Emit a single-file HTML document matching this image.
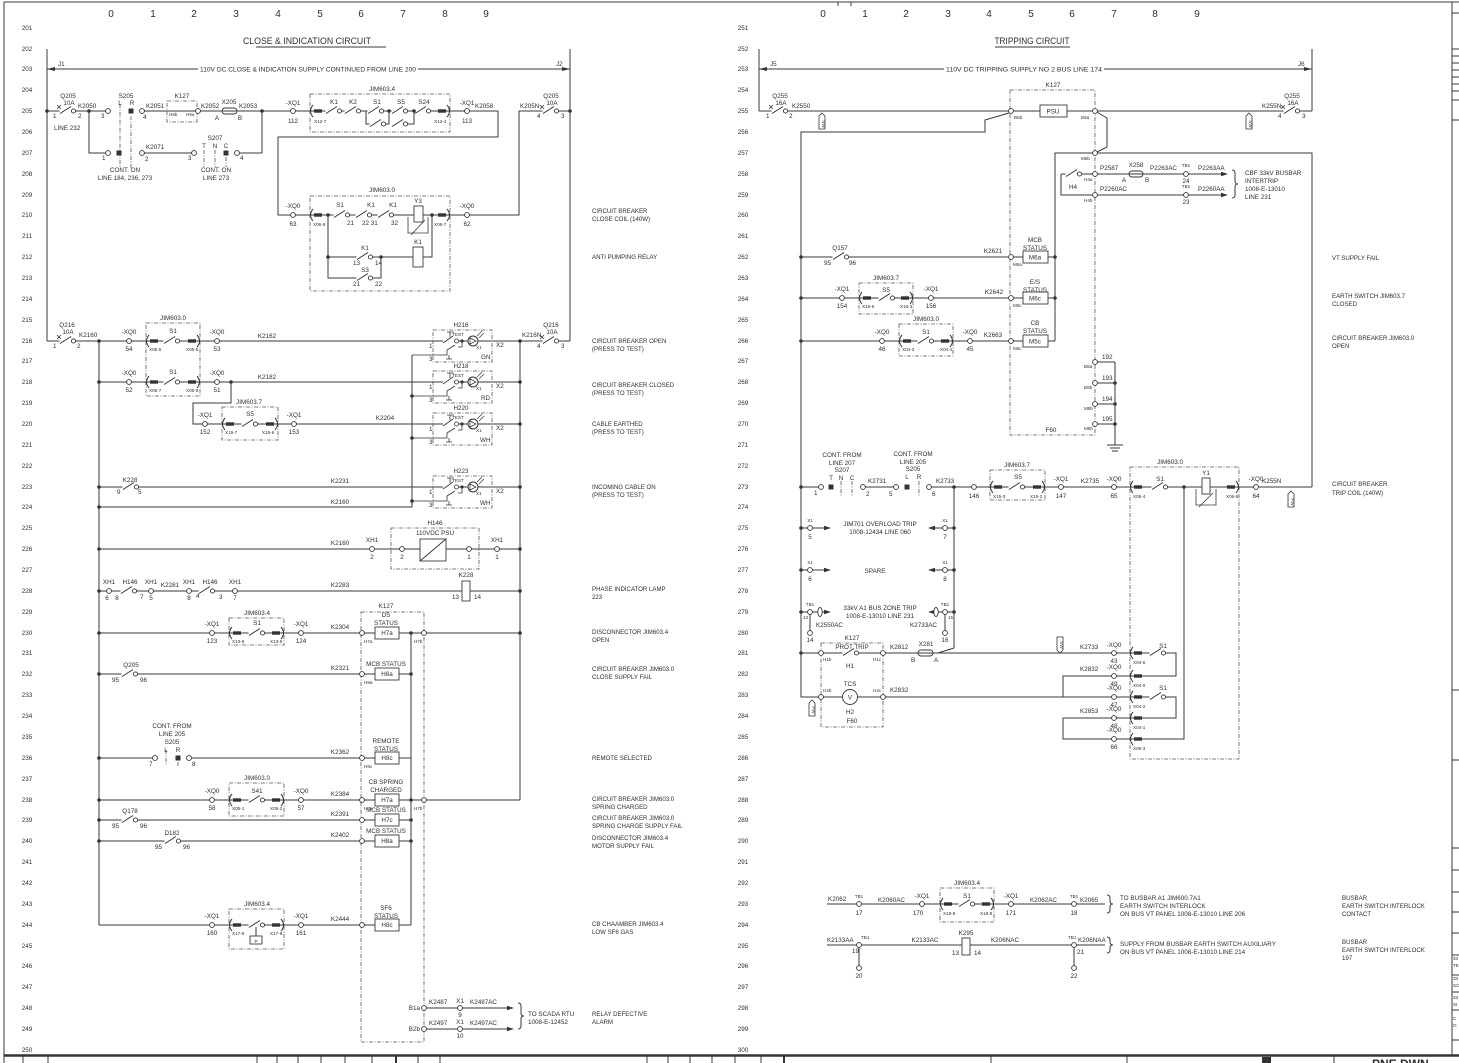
<!DOCTYPE html>
<html><head><meta charset="utf-8"><style>
html,body{margin:0;padding:0;background:#fff}
svg{display:block}
text{font-family:"Liberation Sans",Arial,sans-serif;font-size:6.3px;fill:#2e2e2e}
.m{text-anchor:middle}.e{text-anchor:end}
.c{font-size:10px}
.s{font-size:4.6px}
.ds{font-size:6.1px}
.w{fill:none;stroke:#3a3a3a;stroke-width:1}
.b{fill:none;stroke:#555;stroke-width:.8;stroke-dasharray:4 1.5 1 1.5}
.bx{fill:#fff;stroke:#3a3a3a;stroke-width:.9}
</style></head><body>
<svg width="1459" height="1063" viewBox="0 0 1459 1063" xmlns="http://www.w3.org/2000/svg">
<defs>
<g id="o"><circle r="2.4" fill="#fff" stroke="#333" stroke-width=".9"/></g>
<g id="d"><circle r="1.8" fill="#333"/></g>
<g id="pl"><path d="M3,-6Q-2,0 3,6" fill="none" stroke="#333"/><rect x="4" y="-1.7" width="8" height="3.4" fill="#333"/></g>
<g id="pr"><path d="M-3,-6Q2,0 -3,6" fill="none" stroke="#333"/><rect x="-12" y="-1.7" width="8" height="3.4" fill="#333"/></g>
<g id="k"><rect x="-.5" y="-1.6" width="12" height="3.2" fill="#fff"/><path d="M0,2.5L11,-4.5" stroke="#333" fill="none"/><circle cx="13.5" r="2.1" fill="#fff" stroke="#333" stroke-width=".9"/></g>
<g id="q"><use href="#k"/><path d="M-3,-6L1,-2M1,-6L-3,-2" stroke="#333" stroke-width=".8"/></g>
<g id="lamp">
<rect x="433" y="-11" width="59" height="32" class="b"/>
<rect x="443" y="-1.6" width="12" height="3.2" fill="#fff"/>
<path d="M443,2L453,-5M447,-9h7M450,-9v5" stroke="#333" fill="none" stroke-width=".8"/>
<circle cx="456.5" r="2" fill="#fff" stroke="#333" stroke-width=".8"/>
<circle cx="462" r="1.6" fill="#333"/>
<circle cx="473" r="5" fill="#fff" stroke="#333"/>
<path d="M470,-3L476,0L470,3Z" fill="none" stroke="#333" stroke-width=".7"/>
<path d="M477,-5l5,-5M479,-3l5,-5" stroke="#333" stroke-width=".7"/>
<path d="M412,14H447V9L455,4M462,0V6L458,6M446,18h6M449,14v4" stroke="#333" fill="none" stroke-width=".8"/>
</g>
<g id="sw"><path d="M0,-8L3,-5V8H-3V-5Z" fill="#fff" stroke="#333" stroke-width=".8"/></g>
</defs>

<!-- border -->
<path class="w" d="M4,2H1459M4,2V1063M1452,2V1055"/>
<path d="M4,1055.5H1459" stroke="#333" stroke-width="2.4"/>
<path class="w" d="M23,1056V1063M48,1056V1063M257,1056V1063M277,1056V1063M298,1056V1063M321,1056V1063M345,1056V1063M372,1056V1063M418,1056V1063M440,1056V1063M647,1056V1063M668,1056V1063M690,1056V1063M712,1056V1063M735,1056V1063M761,1056V1063M991,1056V1063M1127,1056V1063M1334,1056V1063"/>
<path d="M396,1056V1063M784,1056V1063" stroke="#333" stroke-width="2"/>
<rect x="1262" y="1057" width="9" height="6" fill="#333"/>
<text x="1372" y="1068" style="font-size:12px;font-weight:bold">PNE DWN</text>
<path class="w" d="M838,2V6M851,2V6"/>
<path class="w" d="M1452,13H1459M1452,49H1459M1452,56H1459M1452,63H1459M1452,70H1459M1452,77H1459M1452,84H1459M1452,91H1459M1452,100H1459M1452,120H1459M1452,690H1459M1452,760H1459M1452,848H1459M1452,870H1459M1452,892H1459M1452,912H1459M1452,933H1459M1452,955H1459M1452,975H1459M1452,992H1459M1452,1010H1459M1452,1040H1459"/>
<text x="1453" y="960" class="s">33</text><text x="1453" y="967" class="s">TE</text>
<text x="1453" y="980" class="s">33</text><text x="1453" y="987" class="s">SC</text>
<text x="1453" y="999" class="s">33</text><text x="1453" y="1006" class="s">SI</text>
<text x="1453" y="1020" class="s">C</text><text x="1453" y="1027" class="s">O</text>

<!-- column numbers -->
<g class="c">
<text x="111" y="17" class="m c">0</text><text x="153" y="17" class="m c">1</text><text x="194" y="17" class="m c">2</text><text x="236" y="17" class="m c">3</text><text x="278" y="17" class="m c">4</text><text x="320" y="17" class="m c">5</text><text x="361" y="17" class="m c">6</text><text x="403" y="17" class="m c">7</text><text x="445" y="17" class="m c">8</text><text x="486" y="17" class="m c">9</text>
<text x="823" y="17" class="m c">0</text><text x="865" y="17" class="m c">1</text><text x="906" y="17" class="m c">2</text><text x="948" y="17" class="m c">3</text><text x="989" y="17" class="m c">4</text><text x="1031" y="17" class="m c">5</text><text x="1072" y="17" class="m c">6</text><text x="1114" y="17" class="m c">7</text><text x="1155" y="17" class="m c">8</text><text x="1197" y="17" class="m c">9</text>
</g>

<!-- line numbers -->
<g>
<text x="27" y="30" class="m">201</text><text x="27" y="51" class="m">202</text><text x="27" y="71" class="m">203</text><text x="27" y="92" class="m">204</text><text x="27" y="113" class="m">205</text><text x="27" y="134" class="m">206</text><text x="27" y="155" class="m">207</text><text x="27" y="176" class="m">208</text><text x="27" y="197" class="m">209</text><text x="27" y="217" class="m">210</text><text x="27" y="238" class="m">211</text><text x="27" y="259" class="m">212</text><text x="27" y="280" class="m">213</text><text x="27" y="301" class="m">214</text><text x="27" y="322" class="m">215</text><text x="27" y="343" class="m">216</text><text x="27" y="363" class="m">217</text><text x="27" y="384" class="m">218</text><text x="27" y="405" class="m">219</text><text x="27" y="426" class="m">220</text><text x="27" y="447" class="m">221</text><text x="27" y="468" class="m">222</text><text x="27" y="489" class="m">223</text><text x="27" y="509" class="m">224</text><text x="27" y="530" class="m">225</text><text x="27" y="551" class="m">226</text><text x="27" y="572" class="m">227</text><text x="27" y="593" class="m">228</text><text x="27" y="614" class="m">229</text><text x="27" y="635" class="m">230</text><text x="27" y="655" class="m">231</text><text x="27" y="676" class="m">232</text><text x="27" y="697" class="m">233</text><text x="27" y="718" class="m">234</text><text x="27" y="739" class="m">235</text><text x="27" y="760" class="m">236</text><text x="27" y="781" class="m">237</text><text x="27" y="802" class="m">238</text><text x="27" y="822" class="m">239</text><text x="27" y="843" class="m">240</text><text x="27" y="864" class="m">241</text><text x="27" y="885" class="m">242</text><text x="27" y="906" class="m">243</text><text x="27" y="927" class="m">244</text><text x="27" y="948" class="m">245</text><text x="27" y="968" class="m">246</text><text x="27" y="989" class="m">247</text><text x="27" y="1010" class="m">248</text><text x="27" y="1031" class="m">249</text><text x="27" y="1052" class="m">250</text>
<text x="743" y="30" class="m">251</text><text x="743" y="51" class="m">252</text><text x="743" y="71" class="m">253</text><text x="743" y="92" class="m">254</text><text x="743" y="113" class="m">255</text><text x="743" y="134" class="m">256</text><text x="743" y="155" class="m">257</text><text x="743" y="176" class="m">258</text><text x="743" y="197" class="m">259</text><text x="743" y="217" class="m">260</text><text x="743" y="238" class="m">261</text><text x="743" y="259" class="m">262</text><text x="743" y="280" class="m">263</text><text x="743" y="301" class="m">264</text><text x="743" y="322" class="m">265</text><text x="743" y="343" class="m">266</text><text x="743" y="363" class="m">267</text><text x="743" y="384" class="m">268</text><text x="743" y="405" class="m">269</text><text x="743" y="426" class="m">270</text><text x="743" y="447" class="m">271</text><text x="743" y="468" class="m">272</text><text x="743" y="489" class="m">273</text><text x="743" y="509" class="m">274</text><text x="743" y="530" class="m">275</text><text x="743" y="551" class="m">276</text><text x="743" y="572" class="m">277</text><text x="743" y="593" class="m">278</text><text x="743" y="614" class="m">279</text><text x="743" y="635" class="m">280</text><text x="743" y="655" class="m">281</text><text x="743" y="676" class="m">282</text><text x="743" y="697" class="m">283</text><text x="743" y="718" class="m">284</text><text x="743" y="739" class="m">285</text><text x="743" y="760" class="m">286</text><text x="743" y="781" class="m">287</text><text x="743" y="802" class="m">288</text><text x="743" y="822" class="m">289</text><text x="743" y="843" class="m">290</text><text x="743" y="864" class="m">291</text><text x="743" y="885" class="m">292</text><text x="743" y="906" class="m">293</text><text x="743" y="927" class="m">294</text><text x="743" y="948" class="m">295</text><text x="743" y="968" class="m">296</text><text x="743" y="989" class="m">297</text><text x="743" y="1010" class="m">298</text><text x="743" y="1031" class="m">299</text><text x="743" y="1052" class="m">300</text>
</g>

<!-- ================= LEFT SHEET ================= -->
<text x="307" y="44" class="m" style="font-size:9.5px" textLength="128" lengthAdjust="spacingAndGlyphs">CLOSE &amp; INDICATION CIRCUIT</text>
<path class="w" d="M256,47H386"/>
<path class="w" d="M47,49V341M570,49V341M47,69H198M418,69H570"/>
<path d="M47,69l8,-2v4zM570,69l-8,-2v4z" fill="#333"/>
<text x="308" y="71.5" class="m" textLength="216" lengthAdjust="spacingAndGlyphs">110V DC CLOSE &amp; INDICATION SUPPLY CONTINUED FROM LINE 200</text>
<text x="58" y="66">J1</text><text x="556" y="66">J2</text>

<!-- wires left -->
<path class="w" d="M47,111H108M142,111H498V137H278V215H519V111H570M89,111V153H108M142,153H194M237,153H262V111"/>
<path class="w" d="M328,215V278H381V257M328,257H432V215"/>
<path class="w" d="M366,111V124H370M386,124H389V111M408,124H414V111"/>
<path class="w" d="M47,341H570M99,341V925M520,341V800M99,382H520M231,382V403H193V424H520M99,487H520M99,507H412V355M99,549H520M99,591H520M99,633H520M99,674H411M99,758H155M189,758H411M99,800H520M99,820H411M99,841H411M99,925H411M411,633V925"/>
<path class="w" d="M424,1008H512M424,1029H512"/>
<path d="M514,1008l-7,-2.2v4.4zM514,1029l-7,-2.2v4.4z" fill="#333"/>

<!-- dashed boxes left -->
<rect x="167" y="101" width="30" height="21" class="b"/>
<rect x="310" y="94" width="140" height="38" class="b"/>
<rect x="310" y="196" width="140" height="95" class="b"/>
<rect x="146" y="323" width="54" height="73" class="b"/>
<rect x="222" y="407" width="56" height="33" class="b"/>
<rect x="391" y="528" width="88" height="41" class="b"/>
<rect x="229" y="618" width="55" height="27" class="b"/>
<rect x="361" y="612" width="63" height="430" class="b"/>
<rect x="229" y="783" width="55" height="33" class="b"/>
<rect x="229" y="909" width="55" height="40" class="b"/>
<path class="b" d="M120,104V168M131,116V168M204,150V167M215,150V167M226,157V167M166,750V766M178,762V766"/>

<!-- symbols row 205/207 -->
<use href="#d" x="47" y="111"/><use href="#q" x="60" y="111"/><use href="#d" x="89" y="111"/>
<use href="#o" x="108" y="111"/><rect x="128.5" y="108.5" width="5" height="5" fill="#333"/>
<use href="#o" x="142" y="111"/><use href="#o" x="198" y="111"/>
<rect x="222" y="108" width="15" height="6" rx="3" class="bx"/><path class="w" d="M222,111H237"/>
<use href="#d" x="262" y="111"/><use href="#o" x="293" y="111"/>
<use href="#pl" x="310" y="111"/>
<use href="#k" x="326" y="111"/><use href="#k" x="345" y="111"/><use href="#k" x="368" y="111"/><use href="#k" x="392" y="111"/><use href="#k" x="415" y="111"/>
<use href="#k" x="370" y="124"/><use href="#k" x="392" y="124"/>
<use href="#d" x="389" y="111"/><use href="#d" x="414" y="111"/>
<use href="#pr" x="450" y="111"/><use href="#o" x="467" y="111"/>
<use href="#q" x="543" y="111"/><use href="#d" x="570" y="111"/>
<use href="#o" x="108" y="153"/><rect x="116.5" y="150.5" width="5" height="5" fill="#333"/><use href="#o" x="142" y="153"/><use href="#o" x="194" y="153"/><rect x="223.5" y="150.5" width="5" height="5" fill="#333"/><use href="#o" x="237" y="153"/>
<!-- row 210-213 -->
<use href="#o" x="293" y="215"/><use href="#pl" x="310" y="215"/><use href="#d" x="328" y="215"/>
<use href="#k" x="334" y="215"/><use href="#k" x="356" y="215"/><use href="#k" x="378" y="215"/>
<rect x="414" y="206" width="9" height="16" class="bx"/>
<path class="w" d="M408,217V233H428V217M411,235L425,220" style="stroke-width:.8"/>
<use href="#d" x="432" y="215"/><use href="#pr" x="450" y="215"/><use href="#o" x="467" y="215"/>
<use href="#d" x="328" y="257"/><use href="#k" x="357" y="257"/><use href="#d" x="381" y="257"/>
<rect x="413" y="247" width="10" height="20" class="bx"/>
<use href="#k" x="357" y="278"/>

<!-- rows 216-224 -->
<use href="#q" x="60" y="341"/><use href="#d" x="99" y="341"/><use href="#o" x="129" y="341"/><use href="#pl" x="146" y="341"/><use href="#k" x="164" y="341"/><use href="#pr" x="200" y="341"/><use href="#o" x="217" y="341"/>
<use href="#lamp" y="341"/><use href="#d" x="520" y="341"/><use href="#q" x="543" y="341"/>
<use href="#d" x="99" y="382"/><use href="#o" x="129" y="382"/><use href="#pl" x="146" y="382"/><use href="#k" x="164" y="382"/><use href="#pr" x="200" y="382"/><use href="#o" x="217" y="382"/><use href="#d" x="231" y="382"/>
<use href="#lamp" y="382"/><use href="#d" x="520" y="382"/>
<use href="#o" x="205" y="424"/><use href="#pl" x="222" y="424"/><use href="#k" x="242" y="424"/><use href="#pr" x="278" y="424"/><use href="#o" x="294" y="424"/>
<use href="#lamp" y="424"/><use href="#d" x="520" y="424"/>
<use href="#d" x="99" y="487"/><use href="#k" x="123" y="487"/><use href="#lamp" y="487"/><use href="#d" x="520" y="487"/>
<use href="#d" x="99" y="507"/><use href="#d" x="412" y="396"/><use href="#d" x="412" y="438"/><use href="#d" x="412" y="501"/>
<!-- 226/228 -->
<use href="#d" x="99" y="549"/><use href="#o" x="372" y="549"/><use href="#o" x="402" y="549"/>
<rect x="420" y="539" width="26" height="22" class="bx"/><path class="w" d="M420,561L446,539"/>
<use href="#o" x="469" y="549"/><use href="#o" x="497" y="549"/><use href="#d" x="520" y="549"/>
<use href="#d" x="99" y="591"/><use href="#o" x="109" y="591"/><use href="#k" x="121" y="591"/><use href="#o" x="151" y="591"/><use href="#o" x="189" y="591"/><use href="#k" x="199" y="591"/><use href="#o" x="235" y="591"/>
<rect x="462" y="581" width="8" height="20" class="bx"/><use href="#d" x="520" y="591"/>
<!-- 230-244 -->
<use href="#d" x="99" y="633"/><use href="#o" x="212" y="633"/><use href="#pl" x="229" y="633"/><use href="#k" x="249" y="633"/><use href="#pr" x="284" y="633"/><use href="#o" x="301" y="633"/>
<use href="#o" x="362" y="633"/><rect x="375" y="627" width="24" height="12" class="bx"/><use href="#d" x="411" y="633"/><use href="#o" x="424" y="633"/><use href="#d" x="520" y="633"/>
<use href="#d" x="99" y="674"/><use href="#k" x="122" y="674"/><use href="#o" x="362" y="674"/><rect x="375" y="668" width="24" height="12" class="bx"/><use href="#d" x="411" y="674"/>
<use href="#d" x="99" y="758"/><use href="#o" x="155" y="758"/><rect x="175.5" y="755.5" width="5" height="5" fill="#333"/><use href="#o" x="189" y="758"/><use href="#o" x="362" y="758"/><rect x="375" y="752" width="24" height="12" class="bx"/>
<use href="#d" x="99" y="800"/><use href="#o" x="212" y="800"/><use href="#pl" x="229" y="800"/><use href="#k" x="249" y="800"/><use href="#pr" x="284" y="800"/><use href="#o" x="301" y="800"/>
<use href="#o" x="362" y="800"/><rect x="375" y="794" width="24" height="12" class="bx"/><use href="#d" x="411" y="800"/><use href="#o" x="424" y="800"/>
<use href="#d" x="99" y="820"/><use href="#k" x="122" y="820"/><use href="#o" x="362" y="820"/><rect x="375" y="814" width="24" height="12" class="bx"/><use href="#d" x="411" y="820"/>
<use href="#d" x="99" y="841"/><use href="#k" x="165" y="841"/><use href="#o" x="362" y="841"/><rect x="375" y="835" width="24" height="12" class="bx"/><use href="#d" x="411" y="841"/>
<use href="#o" x="212" y="925"/><use href="#pl" x="229" y="925"/><use href="#k" x="249" y="925"/><use href="#pr" x="284" y="925"/><use href="#o" x="301" y="925"/>
<path class="w" d="M256,927V936"/><rect x="250" y="936" width="12" height="8" class="bx"/>
<use href="#o" x="362" y="925"/><rect x="375" y="919" width="24" height="12" class="bx"/>
<use href="#o" x="424" y="1008"/><use href="#o" x="460" y="1008"/><use href="#o" x="424" y="1029"/><use href="#o" x="460" y="1029"/>
<path class="w" d="M518,1003q3,0 3,3v7q0,3 3,3q-3,0 -3,3v7q0,3 -3,3"/>

<!-- left labels -->
<g>
<text x="53" y="118">1</text><text x="78" y="118">2</text><text x="68" y="98" class="m">Q205</text><text x="69" y="105" class="m">10A</text><text x="78" y="108">K2050</text><text x="54" y="130">LINE 232</text>
<text x="101" y="118">3</text><text x="126" y="98" class="m">S205</text><text x="120" y="105" class="m">L</text><text x="132" y="105" class="m">R</text>
<text x="143" y="119">4</text><text x="146" y="108">K2051</text><text x="182" y="98" class="m">K127</text><text x="169" y="116" class="s">H6b</text><text x="186" y="116" class="s">H6a</text>
<text x="201" y="108">K2052</text><text x="217" y="120" class="m">A</text><text x="229" y="104" class="m">X205</text><text x="240" y="120" class="m">B</text><text x="239" y="108">K2053</text>
<text x="293" y="105" class="m">-XQ1</text><text x="293" y="123" class="m">112</text><text x="382" y="91" class="m">JIM603.4</text>
<text x="314" y="123" class="s">X12-7</text><text x="334" y="104" class="m">K1</text><text x="353" y="104" class="m">K2</text><text x="377" y="104" class="m">S1</text><text x="401" y="104" class="m">S5</text><text x="424" y="104" class="m">S24</text><text x="434" y="123" class="s">X12-4</text>
<text x="467" y="105" class="m">-XQ1</text><text x="467" y="123" class="m">113</text><text x="475" y="108">K2058</text>
<text x="520" y="108">K205N</text><text x="537" y="118">4</text><text x="561" y="118">3</text><text x="551" y="98" class="m">Q205</text><text x="552" y="105" class="m">10A</text>
<text x="102" y="160">1</text><text x="146" y="149">K2071</text><text x="145" y="161">2</text><text x="188" y="160">3</text><text x="215" y="140" class="m">S207</text><text x="204" y="148" class="m">T</text><text x="215" y="148" class="m">N</text><text x="226" y="148" class="m">C</text><text x="240" y="160">4</text>
<text x="125" y="172" class="m">CONT. ON</text><text x="125" y="180" class="m">LINE 184, 236, 273</text><text x="216" y="172" class="m">CONT. ON</text><text x="216" y="180" class="m">LINE 273</text>
<text x="382" y="192" class="m">JIM603.0</text><text x="293" y="208" class="m">-XQ0</text><text x="293" y="226" class="m">63</text><text x="313" y="226" class="s">X06-6</text>
<text x="340" y="207" class="m">S1</text><text x="347" y="225">21</text><text x="371" y="207" class="m">K1</text><text x="362" y="225">22 31</text><text x="393" y="207" class="m">K1</text><text x="391" y="225">32</text>
<text x="418" y="203" class="m">Y3</text><text x="434" y="226" class="s">X06-7</text><text x="467" y="208" class="m">-XQ0</text><text x="467" y="226" class="m">62</text>
<text x="365" y="250" class="m">K1</text><text x="353" y="265">13</text><text x="375" y="265">14</text><text x="418" y="244" class="m">K1</text>
<text x="365" y="272" class="m">S3</text><text x="353" y="286">21</text><text x="375" y="286">22</text>

<text x="67" y="327" class="m">Q216</text><text x="68" y="334" class="m">10A</text><text x="53" y="348">1</text><text x="77" y="348">2</text><text x="79" y="337">K2160</text>
<text x="173" y="320" class="m">JIM603.0</text>
<text x="129" y="334" class="m">-XQ0</text><text x="129" y="351" class="m">54</text><text x="149" y="351" class="s">X05-5</text><text x="173" y="333" class="m">S1</text><text x="186" y="351" class="s">X05-6</text><text x="217" y="334" class="m">-XQ0</text><text x="217" y="351" class="m">53</text>
<text x="267" y="338" class="m">K2162</text>
<text x="129" y="375" class="m">-XQ0</text><text x="129" y="392" class="m">52</text><text x="149" y="392" class="s">X05-7</text><text x="173" y="374" class="m">S1</text><text x="186" y="392" class="s">X05-8</text><text x="217" y="375" class="m">-XQ0</text><text x="217" y="392" class="m">51</text>
<text x="267" y="379" class="m">K2182</text>
<text x="249" y="404" class="m">JIM603.7</text><text x="205" y="417" class="m">-XQ1</text><text x="205" y="434" class="m">152</text><text x="225" y="434" class="s">X16-7</text><text x="250" y="416" class="m">S5</text><text x="262" y="434" class="s">X16-6</text><text x="294" y="417" class="m">-XQ1</text><text x="294" y="434" class="m">153</text>
<text x="385" y="420" class="m">K2204</text>
<text x="461" y="327" class="m">H216</text><text x="461" y="368" class="m">H218</text><text x="461" y="410" class="m">H220</text><text x="461" y="473" class="m">H223</text>
<text x="458" y="336" class="m s">TEST</text><text x="458" y="377" class="m s">TEST</text><text x="458" y="419" class="m s">TEST</text><text x="458" y="482" class="m s">TEST</text>
<text x="429" y="348">1</text><text x="429" y="361">3</text><text x="476" y="349" class="s">X1</text><text x="496" y="347">X2</text><text x="481" y="359">GN</text>
<text x="429" y="389">1</text><text x="429" y="402">3</text><text x="476" y="390" class="s">X1</text><text x="496" y="388">X2</text><text x="481" y="400">RD</text>
<text x="429" y="431">1</text><text x="429" y="444">3</text><text x="476" y="432" class="s">X1</text><text x="496" y="430">X2</text><text x="480" y="442">WH</text>
<text x="429" y="494">1</text><text x="429" y="507">3</text><text x="476" y="495" class="s">X1</text><text x="496" y="493">X2</text><text x="480" y="505">WH</text>
<text x="522" y="337">K216N</text><text x="537" y="348">4</text><text x="561" y="348">3</text><text x="551" y="327" class="m">Q216</text><text x="552" y="334" class="m">10A</text>
<text x="130" y="482" class="m">K228</text><text x="117" y="494">9</text><text x="138" y="494">5</text><text x="340" y="483" class="m">K2231</text>
<text x="340" y="504" class="m">K2160</text>
<text x="340" y="545" class="m">K2160</text><text x="372" y="542" class="m">XH1</text><text x="372" y="559" class="m">2</text><text x="435" y="525" class="m">H146</text><text x="435" y="535" class="m">110VDC PSU</text><text x="402" y="559" class="m">2</text><text x="469" y="559" class="m">1</text><text x="497" y="542" class="m">XH1</text><text x="497" y="559" class="m">1</text>
<text x="109" y="584" class="m">XH1</text><text x="107" y="600" class="m">6</text><text x="117" y="600" class="m">8</text><text x="130" y="584" class="m">H146</text><text x="140" y="599">7</text>
<text x="151" y="584" class="m">XH1</text><text x="151" y="600" class="m">5</text><text x="170" y="587" class="m">K2281</text>
<text x="189" y="584" class="m">XH1</text><text x="189" y="600" class="m">8</text><text x="196" y="598">4</text><text x="210" y="584" class="m">H146</text><text x="219" y="599">3</text>
<text x="235" y="584" class="m">XH1</text><text x="235" y="600" class="m">7</text><text x="340" y="587" class="m">K2283</text><text x="466" y="577" class="m">K228</text><text x="452" y="599">13</text><text x="474" y="599">14</text>
<text x="257" y="615" class="m">JIM603.4</text><text x="212" y="626" class="m">-XQ1</text><text x="212" y="643" class="m">123</text><text x="232" y="643" class="s">X13-6</text><text x="257" y="625" class="m">S1</text><text x="270" y="643" class="s">X13-5</text><text x="301" y="626" class="m">-XQ1</text><text x="301" y="643" class="m">124</text>
<text x="340" y="629" class="m">K2304</text><text x="386" y="608" class="m">K127</text><text x="386" y="617" class="m">DS</text><text x="386" y="625" class="m">STATUS</text><text x="387" y="635" class="m">H7a</text><text x="364" y="643" class="s">H7a</text><text x="414" y="643" class="s">H7b</text>
<text x="131" y="667" class="m">Q205</text><text x="112" y="682">95</text><text x="140" y="682">96</text><text x="340" y="670" class="m">K2321</text><text x="386" y="666" class="m">MCB STATUS</text><text x="387" y="676" class="m">H8a</text><text x="364" y="684" class="s">H8a</text>
<text x="172" y="728" class="m">CONT. FROM</text><text x="172" y="736" class="m">LINE 205</text><text x="172" y="744" class="m">S205</text><text x="166" y="752" class="m">L</text><text x="178" y="752" class="m">R</text>
<text x="149" y="766">7</text><text x="192" y="766">8</text><text x="340" y="754" class="m">K2362</text><text x="386" y="743" class="m">REMOTE</text><text x="386" y="751" class="m">STATUS</text><text x="387" y="760" class="m">H8c</text><text x="364" y="768" class="s">H8c</text>
<text x="257" y="780" class="m">JIM603.0</text><text x="212" y="793" class="m">-XQ0</text><text x="212" y="810" class="m">58</text><text x="232" y="810" class="s">X05-1</text><text x="257" y="793" class="m">S41</text><text x="270" y="810" class="s">X05-2</text><text x="301" y="793" class="m">-XQ0</text><text x="301" y="810" class="m">57</text>
<text x="340" y="796" class="m">K2384</text><text x="386" y="784" class="m">CB SPRING</text><text x="386" y="792" class="m">CHARGED</text><text x="387" y="802" class="m">H7a</text><text x="364" y="810" class="s">H7a</text><text x="414" y="810" class="s">H7b</text>
<text x="130" y="813" class="m">Q178</text><text x="112" y="828">95</text><text x="140" y="828">96</text><text x="340" y="816" class="m">K2391</text><text x="386" y="812" class="m">MCB STATUS</text><text x="387" y="822" class="m">H7c</text>
<text x="172" y="835" class="m">D182</text><text x="155" y="849">95</text><text x="183" y="849">96</text><text x="340" y="837" class="m">K2402</text><text x="386" y="833" class="m">MCB STATUS</text><text x="387" y="843" class="m">H8a</text>
<text x="257" y="906" class="m">JIM603.4</text><text x="212" y="918" class="m">-XQ1</text><text x="212" y="935" class="m">160</text><text x="232" y="935" class="s">X17-9</text><text x="270" y="935" class="s">X17-8</text><text x="256" y="943" class="m s">P</text><text x="301" y="918" class="m">-XQ1</text><text x="301" y="935" class="m">161</text>
<text x="340" y="921" class="m">K2444</text><text x="386" y="910" class="m">SF6</text><text x="386" y="918" class="m">STATUS</text><text x="387" y="927" class="m">H8c</text>
<text x="420" y="1010" class="e">B1a</text><text x="429" y="1004">K2487</text><text x="460" y="1003" class="m">X1</text><text x="460" y="1017" class="m">9</text><text x="470" y="1004">K2487AC</text>
<text x="420" y="1031" class="e">B2b</text><text x="429" y="1025">K2497</text><text x="460" y="1024" class="m">X1</text><text x="460" y="1038" class="m">10</text><text x="470" y="1025">K2497AC</text>
<text x="528" y="1016">TO SCADA RTU</text><text x="528" y="1024">1008-E-12452</text>
</g>
<g class="ds">
<text x="592" y="213" class="ds">CIRCUIT BREAKER</text><text x="592" y="221" class="ds">CLOSE COIL (140W)</text>
<text x="592" y="259" class="ds">ANTI PUMPING RELAY</text>
<text x="592" y="343" class="ds">CIRCUIT BREAKER OPEN</text><text x="592" y="351" class="ds">(PRESS TO TEST)</text>
<text x="592" y="387" class="ds">CIRCUIT BREAKER CLOSED</text><text x="592" y="395" class="ds">(PRESS TO TEST)</text>
<text x="592" y="426" class="ds">CABLE EARTHED</text><text x="592" y="434" class="ds">(PRESS TO TEST)</text>
<text x="592" y="489" class="ds">INCOMING CABLE ON</text><text x="592" y="497" class="ds">(PRESS TO TEST)</text>
<text x="592" y="591" class="ds">PHASE INDICATOR LAMP</text><text x="592" y="599" class="ds">223</text>
<text x="592" y="634" class="ds">DISCONNECTOR JIM603.4</text><text x="592" y="642" class="ds">OPEN</text>
<text x="592" y="671" class="ds">CIRCUIT BREAKER JIM603.0</text><text x="592" y="679" class="ds">CLOSE SUPPLY FAIL</text>
<text x="592" y="760" class="ds">REMOTE SELECTED</text>
<text x="592" y="801" class="ds">CIRCUIT BREAKER JIM603.0</text><text x="592" y="809" class="ds">SPRING CHARGED</text>
<text x="592" y="820" class="ds">CIRCUIT BREAKER JIM603.0</text><text x="592" y="828" class="ds">SPRING CHARGE SUPPLY FAIL</text>
<text x="592" y="840" class="ds">DISCONNECTOR JIM603.4</text><text x="592" y="848" class="ds">MOTOR SUPPLY FAIL</text>
<text x="592" y="926" class="ds">CB CHAAMBER JIM603.4</text><text x="592" y="934" class="ds">LOW SF6 GAS</text>
<text x="592" y="1016" class="ds">RELAY DEFECTIVE</text><text x="592" y="1024" class="ds">ALARM</text>
</g>

<!-- ================= RIGHT SHEET ================= -->
<text x="1032" y="44" class="m" style="font-size:9.5px" textLength="75" lengthAdjust="spacingAndGlyphs">TRIPPING CIRCUIT</text>
<path class="w" d="M995,47H1070"/>
<path class="w" d="M759,49V111M1312,49V111M759,69H944M1104,69H1312"/>
<path d="M759,69l8,-2v4zM1312,69l-8,-2v4z" fill="#333"/>
<text x="1024" y="71.5" class="m" textLength="156" lengthAdjust="spacingAndGlyphs">110V DC TRIPPING SUPPLY NO 2 BUS LINE 174</text>
<text x="770" y="66">J5</text><text x="1298" y="66">J6</text>

<path class="w" d="M759,111H1312M1009,113L985,120V132H801V697H1176V718H1063V739H1184V487M1095,111L1107,118V147L1095,153M1055,341V153H1312V487"/>
<path class="w" d="M1061,174V195H1224M1061,174H1066M1082,174H1224M801,257H1055M801,298H1055M801,341H1055"/>
<path class="w" d="M1095,362H1115M1095,383H1115M1095,404H1115M1095,424H1115M1115,362V445M1107,445H1123M1110,448H1120M1112,451H1118"/>
<path class="w" d="M801,487H821M863,487H896M929,487H1312M954,487V648L938,653M801,528H829M930,528H954M801,570H829M930,570H954M801,612H829M930,612H954M810,612V633M945,612V633"/>
<path class="w" d="M801,653H1176V676H1063V697"/>
<path class="w" d="M827,904H1105M827,945H1105M859,945V968M1074,945V968"/>
<path d="M1228,174l-7,-2.2v4.4zM1228,195l-7,-2.2v4.4zM831,528l-7,-2.2v4.4zM928,528l7,-2.2v4.4zM831,570l-7,-2.2v4.4zM928,570l7,-2.2v4.4zM831,612l-7,-2.2v4.4zM928,612l7,-2.2v4.4z" fill="#333"/>

<rect x="1010" y="90" width="85" height="345" class="b"/>
<rect x="859" y="283" width="54" height="31" class="b"/>
<rect x="899" y="324" width="54" height="32" class="b"/>
<rect x="990" y="470" width="55" height="30" class="b"/>
<rect x="1130" y="467" width="109" height="292" class="b"/>
<rect x="821" y="643" width="62" height="84" class="b"/>
<rect x="940" y="888" width="54" height="34" class="b"/>
<path class="b" d="M841,481V496M852,481V496M919,481V496"/>

<use href="#q" x="772" y="111"/><use href="#sw" x="822" y="121"/><use href="#o" x="1011" y="111"/><rect x="1040" y="105" width="27" height="12" class="bx"/><use href="#o" x="1095" y="111"/><use href="#sw" x="1249" y="121"/><use href="#q" x="1284" y="111"/>
<use href="#o" x="1095" y="153"/>
<use href="#k" x="1066" y="174"/><use href="#o" x="1095" y="174"/><rect x="1129" y="171" width="14" height="6" rx="3" class="bx"/><path class="w" d="M1129,174H1143"/><use href="#o" x="1186" y="174"/>
<use href="#o" x="1095" y="195"/><use href="#o" x="1186" y="195"/>
<path class="w" d="M1232,170q3,0 3,3v8q0,3 3,3q-3,0 -3,3v8q0,3 -3,3"/>
<use href="#d" x="801" y="257"/><use href="#k" x="833" y="257"/><use href="#o" x="1011" y="257"/><rect x="1023" y="251" width="25" height="12" class="bx"/><use href="#d" x="1055" y="257"/>
<use href="#d" x="801" y="298"/><use href="#o" x="842" y="298"/><use href="#pl" x="859" y="298"/><use href="#k" x="879" y="298"/><use href="#pr" x="913" y="298"/><use href="#o" x="931" y="298"/><use href="#o" x="1011" y="298"/><rect x="1023" y="292" width="25" height="12" class="bx"/><use href="#d" x="1055" y="298"/>
<use href="#d" x="801" y="341"/><use href="#o" x="882" y="341"/><use href="#pl" x="899" y="341"/><use href="#k" x="918" y="341"/><use href="#pr" x="953" y="341"/><use href="#o" x="970" y="341"/><use href="#o" x="1011" y="341"/><rect x="1023" y="335" width="25" height="12" class="bx"/>
<use href="#o" x="1095" y="362"/><use href="#o" x="1095" y="383"/><use href="#o" x="1095" y="404"/><use href="#o" x="1095" y="424"/><use href="#d" x="1115" y="383"/><use href="#d" x="1115" y="404"/><use href="#d" x="1115" y="424"/>

<use href="#d" x="801" y="487"/><use href="#o" x="821" y="487"/><rect x="828.5" y="484.5" width="5" height="5" fill="#333"/><use href="#o" x="863" y="487"/><use href="#o" x="896" y="487"/><rect x="904.5" y="484.5" width="5" height="5" fill="#333"/><use href="#o" x="929" y="487"/><use href="#d" x="954" y="487"/>
<use href="#o" x="974" y="487"/><use href="#pl" x="990" y="487"/><use href="#k" x="1009" y="487"/><use href="#pr" x="1045" y="487"/><use href="#o" x="1061" y="487"/><use href="#o" x="1114" y="487"/>
<use href="#pl" x="1130" y="487"/><use href="#k" x="1152" y="487"/><use href="#d" x="1184" y="487"/><rect x="1202" y="478" width="8" height="16" class="bx"/><path class="w" d="M1196,489V505H1216V489M1199,507L1213,493" style="stroke-width:.8"/><use href="#pr" x="1239" y="487"/><use href="#o" x="1256" y="487"/><use href="#sw" x="1291" y="499"/>
<use href="#d" x="801" y="528"/><use href="#o" x="810" y="528"/><use href="#o" x="945" y="528"/><use href="#d" x="954" y="528"/>
<use href="#d" x="801" y="570"/><use href="#o" x="810" y="570"/><use href="#o" x="945" y="570"/><use href="#d" x="954" y="570"/>
<use href="#d" x="801" y="612"/><use href="#o" x="810" y="612"/><ellipse cx="820" cy="612" rx="2.2" ry="4.5" class="bx"/><ellipse cx="936" cy="612" rx="2.2" ry="4.5" class="bx"/><use href="#o" x="945" y="612"/><use href="#d" x="954" y="612"/><use href="#o" x="810" y="633"/><use href="#o" x="945" y="633"/>
<use href="#d" x="801" y="653"/><use href="#o" x="821" y="653"/><use href="#k" x="843" y="653"/><use href="#o" x="883" y="653"/><rect x="918" y="650" width="15" height="6" rx="3" class="bx"/><path class="w" d="M918,653H933"/>
<g transform="translate(1060,645) rotate(180)"><use href="#sw"/></g>
<use href="#o" x="1114" y="653"/><use href="#pl" x="1130" y="653"/><use href="#k" x="1150" y="653"/>
<use href="#o" x="1114" y="676"/><use href="#pl" x="1130" y="676"/>
<use href="#o" x="821" y="697"/><circle cx="850" cy="697" r="7.5" class="bx"/><use href="#o" x="883" y="697"/><use href="#o" x="1114" y="697"/><use href="#pl" x="1130" y="697"/><use href="#k" x="1150" y="697"/>
<use href="#o" x="1114" y="718"/><use href="#pl" x="1130" y="718"/>
<use href="#o" x="1114" y="739"/><use href="#pl" x="1130" y="739"/>
<use href="#sw" x="812" y="708"/>
<!-- rows 293/295 -->
<use href="#o" x="859" y="904"/><use href="#o" x="922" y="904"/><use href="#pl" x="940" y="904"/><use href="#k" x="959" y="904"/><use href="#pr" x="994" y="904"/><use href="#o" x="1011" y="904"/><use href="#o" x="1074" y="904"/>
<use href="#o" x="859" y="945"/><use href="#o" x="859" y="968"/><rect x="962" y="938" width="8" height="17" class="bx"/><use href="#o" x="1074" y="945"/><use href="#o" x="1074" y="968"/>
<path class="w" d="M1107,895q3,0 3,3v3q0,3 3,3q-3,0 -3,3v3q0,3 -3,3M1107,937q3,0 3,3v2q0,3 3,3q-3,0 -3,3v2q0,3 -3,3"/>

<g>
<text x="766" y="118">1</text><text x="789" y="118">2</text><text x="780" y="98" class="m">Q255</text><text x="781" y="105" class="m">16A</text><text x="792" y="108">K2550</text>
<text x="822" y="124" class="m s" transform="rotate(90 822 124)">SW</text><text x="1249" y="124" class="m s" transform="rotate(90 1249 124)">SW</text>
<text x="1014" y="119" class="s">B5b</text><text x="1053" y="87" class="m">K127</text><text x="1053" y="113.5" class="m">PSU</text><text x="1081" y="119" class="s">B6a</text>
<text x="1262" y="108">K255N</text><text x="1278" y="118">4</text><text x="1302" y="118">3</text><text x="1292" y="98" class="m">Q255</text><text x="1293" y="105" class="m">16A</text>
<text x="1081" y="160" class="s">M5b</text><text x="1069" y="189">H4</text><text x="1084" y="181" class="s">H4a</text><text x="1084" y="202" class="s">H4b</text>
<text x="1100" y="170">P2587</text><text x="1122" y="182">A</text><text x="1136" y="167" class="m">X258</text><text x="1145" y="182">B</text><text x="1150" y="170">P2263AC</text><text x="1186" y="167" class="m s">TB1</text><text x="1186" y="183" class="m">24</text><text x="1198" y="170">P2263AA</text>
<text x="1100" y="191">P2260AC</text><text x="1186" y="188" class="m s">TB1</text><text x="1186" y="204" class="m">23</text><text x="1198" y="191">P2260AA</text>
<text x="1245" y="175">CBF 33kV BUSBAR</text><text x="1245" y="183">INTERTRIP</text><text x="1245" y="191">1008-E-13010</text><text x="1245" y="199">LINE 231</text>
<text x="840" y="250" class="m">Q157</text><text x="824" y="265">95</text><text x="849" y="265">96</text><text x="993" y="253" class="m">K2621</text><text x="1035" y="242" class="m">MCB</text><text x="1035" y="250" class="m">STATUS</text><text x="1035" y="259.5" class="m">M6a</text><text x="1013" y="266" class="s">M6a</text>
<text x="886" y="280" class="m">JIM603.7</text><text x="842" y="291" class="m">-XQ1</text><text x="842" y="308" class="m">154</text><text x="862" y="308" class="s">X16-5</text><text x="886" y="292" class="m">S5</text><text x="900" y="308" class="s">X16-3</text><text x="931" y="291" class="m">-XQ1</text><text x="931" y="308" class="m">156</text>
<text x="994" y="294" class="m">K2642</text><text x="1035" y="284" class="m">E/S</text><text x="1035" y="292" class="m">STATUS</text><text x="1035" y="300.5" class="m">M6c</text><text x="1013" y="307" class="s">M6c</text>
<text x="926" y="321" class="m">JIM603.0</text><text x="882" y="334" class="m">-XQ0</text><text x="882" y="351" class="m">46</text><text x="902" y="351" class="s">X04-3</text><text x="926" y="334" class="m">S1</text><text x="940" y="351" class="s">X04-4</text><text x="970" y="334" class="m">-XQ0</text><text x="970" y="351" class="m">45</text>
<text x="993" y="337" class="m">K2663</text><text x="1035" y="325" class="m">CB</text><text x="1035" y="333" class="m">STATUS</text><text x="1035" y="343.5" class="m">M5c</text><text x="1013" y="350" class="s">M5c</text>
<text x="1102" y="359">192</text><text x="1102" y="380">193</text><text x="1102" y="401">194</text><text x="1102" y="421">195</text>
<text x="1084" y="368" class="s">B8a</text><text x="1084" y="389" class="s">B8b</text><text x="1084" y="410" class="s">M8b</text><text x="1084" y="430" class="s">M8b</text><text x="1051" y="432" class="m">F60</text>
<text x="842" y="457" class="m">CONT. FROM</text><text x="842" y="465" class="m">LINE 207</text><text x="842" y="472" class="m">S207</text><text x="831" y="480" class="m">T</text><text x="841" y="480" class="m">N</text><text x="852" y="480" class="m">C</text>
<text x="913" y="456" class="m">CONT. FROM</text><text x="913" y="464" class="m">LINE 205</text><text x="913" y="471" class="m">S205</text><text x="907" y="479" class="m">L</text><text x="919" y="479" class="m">R</text>
<text x="814" y="495">1</text><text x="866" y="496">2</text><text x="868" y="483">K2731</text><text x="889" y="496">5</text><text x="932" y="496">6</text><text x="936" y="483">K2733</text>
<text x="974" y="498" class="m">146</text><text x="1017" y="467" class="m">JIM603.7</text><text x="993" y="498" class="s">X15-3</text><text x="1018" y="479" class="m">S5</text><text x="1030" y="498" class="s">X15-2</text><text x="1061" y="481" class="m">-XQ1</text><text x="1061" y="498" class="m">147</text>
<text x="1090" y="483" class="m">K2735</text><text x="1114" y="481" class="m">-XQ0</text><text x="1114" y="498" class="m">65</text><text x="1170" y="464" class="m">JIM603.0</text><text x="1133" y="498" class="s">X06-4</text><text x="1160" y="481" class="m">S1</text><text x="1206" y="475" class="m">Y1</text><text x="1226" y="498" class="s">X06-5</text>
<text x="1256" y="481" class="m">-XQ0</text><text x="1256" y="498" class="m">64</text><text x="1262" y="483">K255N</text><text x="1291" y="502" class="m s" transform="rotate(90 1291 502)">FW</text>
<text x="810" y="522" class="m s">X1</text><text x="810" y="539" class="m">5</text><text x="880" y="526" class="m">JIM701 OVERLOAD TRIP</text><text x="880" y="534" class="m">1008-12434 LINE 060</text><text x="945" y="522" class="m s">X1</text><text x="945" y="539" class="m">7</text>
<text x="810" y="564" class="m s">X1</text><text x="810" y="581" class="m">6</text><text x="875" y="573" class="m">SPARE</text><text x="945" y="564" class="m s">X1</text><text x="945" y="581" class="m">8</text>
<text x="810" y="606" class="m s">TB1</text><text x="803" y="619" class="s">13</text><text x="880" y="610" class="m">33kV A1 BUS ZONE TRIP</text><text x="880" y="618" class="m">1008-E-13010 LINE 231</text><text x="816" y="627">K2550AC</text><text x="910" y="627">K2733AC</text><text x="945" y="606" class="m s">TB1</text><text x="948" y="619" class="s">15</text><text x="810" y="642" class="m">14</text><text x="945" y="642" class="m">16</text>
<text x="852" y="640" class="m">K127</text><text x="852" y="649" class="m">PROT TRIP</text><text x="823" y="661" class="s">H1b</text><text x="850" y="668" class="m">H1</text><text x="873" y="661" class="s">H1c</text><text x="890" y="649">K2812</text><text x="911" y="662">B</text><text x="926" y="646" class="m">X281</text><text x="934" y="662">A</text>
<text x="1060" y="645" class="m s" transform="rotate(90 1060 645)">SW</text><text x="1080" y="649">K2733</text><text x="1114" y="647" class="m">-XQ0</text><text x="1114" y="663" class="m">43</text><text x="1133" y="664" class="s">X04-6</text><text x="1163" y="648" class="m">S1</text>
<text x="1080" y="671">K2832</text><text x="1114" y="669" class="m">-XQ0</text><text x="1114" y="686" class="m">49</text><text x="1133" y="687" class="s">X04-0</text>
<text x="823" y="692" class="s">H2b</text><text x="850" y="686" class="m">TCS</text><text x="850" y="699.5" class="m">V</text><text x="850" y="714" class="m">H2</text><text x="873" y="692" class="s">H2c</text><text x="890" y="692">K2832</text>
<text x="1114" y="690" class="m">-XQ0</text><text x="1114" y="707" class="m">47</text><text x="1133" y="708" class="s">X04-2</text><text x="1163" y="690" class="m">S1</text>
<text x="1080" y="713">K2853</text><text x="1114" y="711" class="m">-XQ0</text><text x="1114" y="728" class="m">48</text><text x="1133" y="729" class="s">X04-1</text>
<text x="1114" y="732" class="m">-XQ0</text><text x="1114" y="749" class="m">66</text><text x="1133" y="750" class="s">X06-3</text>
<text x="852" y="723" class="m">F60</text><text x="812" y="710" class="m s" transform="rotate(90 812 710)">FW</text>
<text x="828" y="901">K2062</text><text x="859" y="898" class="m s">TB1</text><text x="859" y="915" class="m">17</text><text x="878" y="902">K2060AC</text><text x="922" y="898" class="m">-XQ1</text><text x="918" y="915" class="m">170</text>
<text x="967" y="885" class="m">JIM603.4</text><text x="943" y="915" class="s">X18-9</text><text x="967" y="898" class="m">S1</text><text x="980" y="915" class="s">X18-8</text><text x="1011" y="898" class="m">-XQ1</text><text x="1011" y="915" class="m">171</text>
<text x="1030" y="902">K2062AC</text><text x="1074" y="898" class="m s">TB1</text><text x="1074" y="915" class="m">18</text><text x="1080" y="902">K2065</text>
<text x="1120" y="900">TO BUSBAR A1 JIM600.7A1</text><text x="1120" y="908">EARTH SWITCH INTERLOCK</text><text x="1120" y="916">ON BUS VT PANEL 1008-E-13010 LINE 206</text>
<text x="827" y="942">K2133AA</text><text x="861" y="939" class="s">TB1</text><text x="852" y="953">19</text><text x="859" y="978" class="m">20</text><text x="925" y="942" class="m">K2133AC</text><text x="966" y="935" class="m">K295</text><text x="952" y="955">13</text><text x="974" y="955">14</text><text x="1005" y="942" class="m">K206NAC</text>
<text x="1068" y="939" class="s">TB1</text><text x="1077" y="954">21</text><text x="1074" y="978" class="m">22</text><text x="1078" y="942">K206NAA</text>
<text x="1120" y="946">SUPPLY FROM BUSBAR EARTH SWITCH AUXILIARY</text><text x="1120" y="954">ON BUS VT PANEL  1008-E-13010 LINE 214</text>
</g>
<g>
<text x="1332" y="260" class="ds">VT SUPPLY FAIL</text>
<text x="1332" y="298" class="ds">EARTH SWITCH JIM603.7</text><text x="1332" y="306" class="ds">CLOSED</text>
<text x="1332" y="340" class="ds">CIRCUIT BREAKER JIM603.0</text><text x="1332" y="348" class="ds">OPEN</text>
<text x="1332" y="486" class="ds">CIRCUIT BREAKER</text><text x="1332" y="495" class="ds">TRIP COIL (140W)</text>
<text x="1342" y="900" class="ds">BUSBAR</text><text x="1342" y="908" class="ds">EARTH SWITCH INTERLOCK</text><text x="1342" y="916" class="ds">CONTACT</text>
<text x="1342" y="944" class="ds">BUSBAR</text><text x="1342" y="952" class="ds">EARTH SWITCH INTERLOCK</text><text x="1342" y="960" class="ds">197</text>
</g>
</svg>
</body></html>
